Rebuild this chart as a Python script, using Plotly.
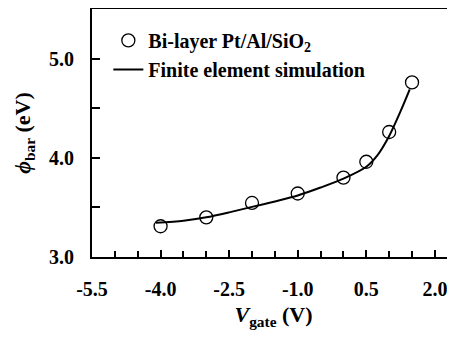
import plotly.graph_objects as go

# Measured data (bi-layer Pt/Al/SiO2)
v_meas = [-4.0, -3.0, -2.0, -1.0, 0.0, 0.5, 1.0, 1.5]
phi_meas = [3.31, 3.40, 3.545, 3.64, 3.80, 3.96, 4.26, 4.76]

# Finite element simulation curve
v_sim = [-4.1, -3.5, -3.0, -2.5, -2.0, -1.5, -1.0, -0.5, 0.0, 0.5, 0.75, 1.0, 1.25, 1.45]
phi_sim = [3.345, 3.365, 3.40, 3.45, 3.505, 3.56, 3.62, 3.70, 3.79, 3.91, 4.03, 4.22, 4.47, 4.69]

x_tickvals = [-5.5, -4.0, -2.5, -1.0, 0.5, 2.0]
x_ticktext = ["-5.5", "-4.0", "-2.5", "-1.0", "0.5", "2.0"]
y_tickvals = [3.0, 4.0, 5.0]
y_ticktext = ["3.0", "4.0", "5.0"]

FONT = "Liberation Serif"

fig = go.Figure()
fig.add_trace(go.Scatter(
    x=v_meas, y=phi_meas, mode="markers",
    name="<b>Bi-layer Pt/Al/SiO<sub>2</sub></b>",
    marker=dict(symbol="circle", size=13, color="white",
                line=dict(color="black", width=1.3)),
))
fig.add_trace(go.Scatter(
    x=v_sim, y=phi_sim, mode="lines",
    name="<b>Finite element simulation</b>",
    line=dict(color="black", width=2, shape="spline", smoothing=0.8),
))

fig.update_layout(
    width=455, height=339,
    margin=dict(l=84, r=8, t=1, b=90, autoexpand=False),
    paper_bgcolor="white", plot_bgcolor="white",
    font=dict(family=FONT, size=20, color="black"),
    showlegend=True,
    legend=dict(x=0.045, y=0.952, xanchor="left", yanchor="top",
                xref="paper", yref="paper",
                bgcolor="rgba(0,0,0,0)", font=dict(size=20, family=FONT),
                itemwidth=30, tracegroupgap=0),
)
fig.update_xaxes(
    range=[-5.5, 2.44], automargin=False,
    showline=True, linecolor="black", linewidth=2, mirror=True,
    showgrid=False, zeroline=False,
    tickmode="array", tickvals=x_tickvals, ticktext=x_ticktext,
    ticks="inside", ticklen=7, tickwidth=1.5, tickcolor="black",
    tickfont=dict(size=20, family=FONT, weight="bold"),
    ticklabelstandoff=13,
    minor=dict(dtick=0.5, tick0=-5.5, ticks="inside", ticklen=6, tickwidth=1.5,
               tickcolor="black", showgrid=False),
    title=dict(text="<b><i>V</i><sub>gate</sub> (V)</b>", font=dict(size=22, family=FONT),
               standoff=8),
)
fig.update_yaxes(
    range=[3.0, 5.5], automargin=False,
    showline=True, linecolor="black", linewidth=2, mirror=False,
    showgrid=False, zeroline=False,
    tickmode="array", tickvals=y_tickvals, ticktext=y_ticktext,
    ticks="inside", ticklen=8, tickwidth=1.5, tickcolor="black",
    tickfont=dict(size=20, family=FONT, weight="bold"),
    ticklabelstandoff=12,
    minor=dict(dtick=0.5, tick0=3.0, ticks="inside", ticklen=8, tickwidth=1.5,
               tickcolor="black", showgrid=False),
    title=dict(text="<b><i>ϕ</i><sub>bar</sub> (eV)</b>", font=dict(size=22, family=FONT),
               standoff=12),
)

fig.write_html("out.html")
